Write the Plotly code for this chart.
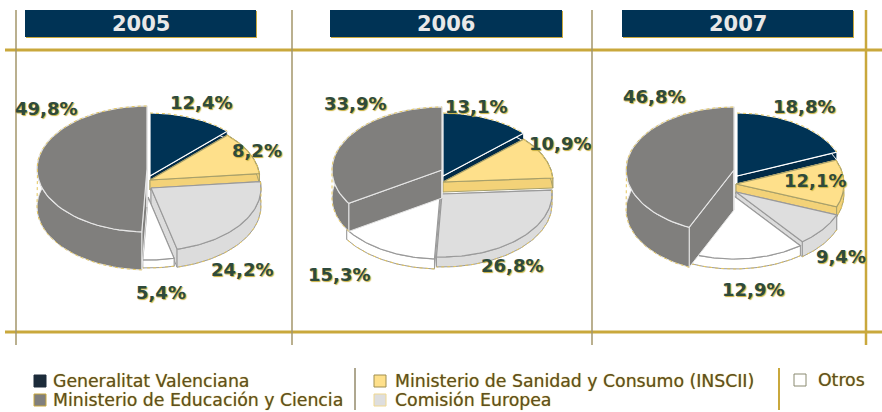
import numpy as np
import plotly.graph_objects as go

years = ["2005", "2006", "2007"]
series = ["Generalitat Valenciana", "Ministerio de Sanidad y Consumo (INSCII)", "Comisión Europea", "Otros", "Ministerio de Educación y Ciencia"]
values_2005 = [12.4, 8.2, 24.2, 5.4, 49.8]
values_2006 = [13.1, 10.9, 26.8, 15.3, 33.9]
values_2007 = [18.8, 12.1, 9.4, 12.9, 46.8]
colors = ["#003355", "#fee08b", "#dedede", "#ffffff", "#807f7d"]
wall_colors = ["#002a47", "#f3d278", "#dcdcdc", "#ffffff", "#807f7d"]
edge_colors = ["#ffffff", "#a8a06a", "#9a9a9a", "#9a9a9a", "#e6e6e6"]

W, H = 882, 412
# off: per-slice explode (dx, dy) and wall depth; persp: per-boundary perspective nudge in degrees
pies = [
    dict(vals=values_2005, cx=150, cy=176, rx=110, ry=63,
         off=[(0, 0, 8), (0, 4, 10), (1, 12, 18), (-2, 21, 8), (-3, -7, 38)],
         persp=[0, 0, 10, 5, 2, 0],
         labels=[(201, 102), (257, 150), (242, 269), (161, 292), (46, 108)],
         head=(25, 256)),
    dict(vals=values_2006, cx=442, cy=176, rx=110, ry=63,
         off=[(1, 0, 8), (1, 6, 10), (0, 18, 10), (-2, 20, 10), (0, -6, 28)],
         persp=[0, 0, 0, 0, 0, 0],
         labels=[(476, 106), (560, 143), (512, 265), (339, 274), (355, 103)],
         head=(330, 562)),
    dict(vals=values_2007, cx=736, cy=176, rx=108, ry=63,
         off=[(1, 0, 8), (0, 8, 10), (0, 16, 15), (-2, 20, 10), (-2, -6, 40)],
         persp=[0, 0, 0, -3, 13, 0],
         labels=[(804, 106), (815, 180), (841, 256), (753, 289), (654, 96)],
         head=(622, 853)),
]

fig = go.Figure()


def poly(xs, ys, fill, line, width=1):
    fig.add_trace(go.Scatter(x=list(xs), y=list(ys), mode="lines", fill="toself",
                             fillcolor=fill, line=dict(color=line, width=width),
                             hoverinfo="skip", showlegend=False))


for p in pies:
    bounds = np.cumsum([0] + p["vals"]) / 100 * 2 * np.pi + np.radians(p["persp"])
    for i in range(5):
        dx, dy, depth = p["off"][i]
        cx, cy = p["cx"] + dx, p["cy"] + dy
        t = np.linspace(bounds[i], bounds[i + 1], 60)
        ax = cx + p["rx"] * np.sin(t)
        ay = cy - p["ry"] * np.cos(t)
        # cut walls and outer rim, all extruded downwards; the top hides what faces away
        for a in (0, -1):
            poly([cx, ax[a], ax[a], cx, cx], [cy, ay[a], ay[a] + depth, cy + depth, cy],
                 wall_colors[i], edge_colors[i])
        poly(np.r_[ax, ax[::-1], ax[0]], np.r_[ay, ay[::-1] + depth, ay[0]],
             wall_colors[i], edge_colors[i])
        poly(np.r_[cx, ax, cx], np.r_[cy, ay, cy], colors[i], edge_colors[i], 1.2)
        # dotted golden fringe on the outline
        fig.add_trace(go.Scatter(x=ax, y=ay + np.where(np.cos(t) < 0, depth, 0), mode="lines",
                                 line=dict(color="#e5c65c", width=1, dash="dot"),
                                 hoverinfo="skip", showlegend=False))

shapes = []
GOLD, THIN = "#c9a83c", "#a3966a"
for y in (50, 332):
    shapes.append(dict(type="line", x0=5, x1=882, y0=y, y1=y, line=dict(color=GOLD, width=3)))
for x, c, w in ((16, THIN, 1.5), (292, THIN, 1.5), (592, THIN, 1.5), (866, GOLD, 2.5)):
    shapes.append(dict(type="line", x0=x, x1=x, y0=10, y1=345, line=dict(color=c, width=w)))

annotations = []
for p, year in zip(pies, years):
    x0, x1 = p["head"]
    shapes.append(dict(type="rect", x0=x0 + 1, x1=x1 + 1, y0=11, y1=38, fillcolor=GOLD, line_width=0))
    shapes.append(dict(type="rect", x0=x0, x1=x1, y0=10, y1=37, fillcolor="#003355", line_width=0))
    annotations.append(dict(x=(x0 + x1) / 2, y=24, text=f"<b>{year}</b>", showarrow=False,
                            font=dict(family="DejaVu Sans", size=21, color="#e8e8e8")))
    for v, (lx, ly) in zip(p["vals"], p["labels"]):
        annotations.append(dict(x=lx, y=ly, text="<b>" + f"{v:.1f}".replace(".", ",") + "%</b>",
                                showarrow=False,
                                font=dict(family="DejaVu Sans", size=18, color="#2e4a3c",
                                          shadow="1px 1px 1px #c9b040")))

legend_items = [
    (0, 34, 381, 51, "#1c2b3a", "#1c2b3a"),
    (4, 34, 400, 51, "#807f7d", "#c9a83c"),
    (1, 374, 381, 393, "#fee08b", "#a08f50"),
    (2, 374, 400, 393, "#dedede", "#f0d890"),
    (3, 794, 380, 816, "#ffffff", "#8a8a70"),
]
for i, sx, y, tx, fc, lc in legend_items:
    shapes.append(dict(type="rect", x0=sx, x1=sx + 12, y0=y - 6, y1=y + 6, fillcolor=fc,
                       line=dict(color=lc, width=1)))
    annotations.append(dict(x=tx, y=y, text=series[i], showarrow=False, xanchor="left",
                            font=dict(family="DejaVu Sans", size=17.3, color="#5e5020",
                                      shadow="0 0 1px #c9a83c")))
shapes.append(dict(type="line", x0=355, x1=355, y0=368, y1=410, line=dict(color="#5e5020", width=1)))
shapes.append(dict(type="line", x0=779, x1=779, y0=368, y1=410, line=dict(color=GOLD, width=2)))

fig.update_layout(
    width=W, height=H, margin=dict(l=0, r=0, t=0, b=0), autosize=False,
    paper_bgcolor="white", plot_bgcolor="white", showlegend=False,
    xaxis=dict(range=[0, W], visible=False, fixedrange=True),
    yaxis=dict(range=[H, 0], visible=False, fixedrange=True),
    shapes=shapes, annotations=annotations,
)
fig.write_html("out.html", config={"displayModeBar": False},
               post_script="document.body.style.margin='0';document.documentElement.style.overflow='hidden';")
